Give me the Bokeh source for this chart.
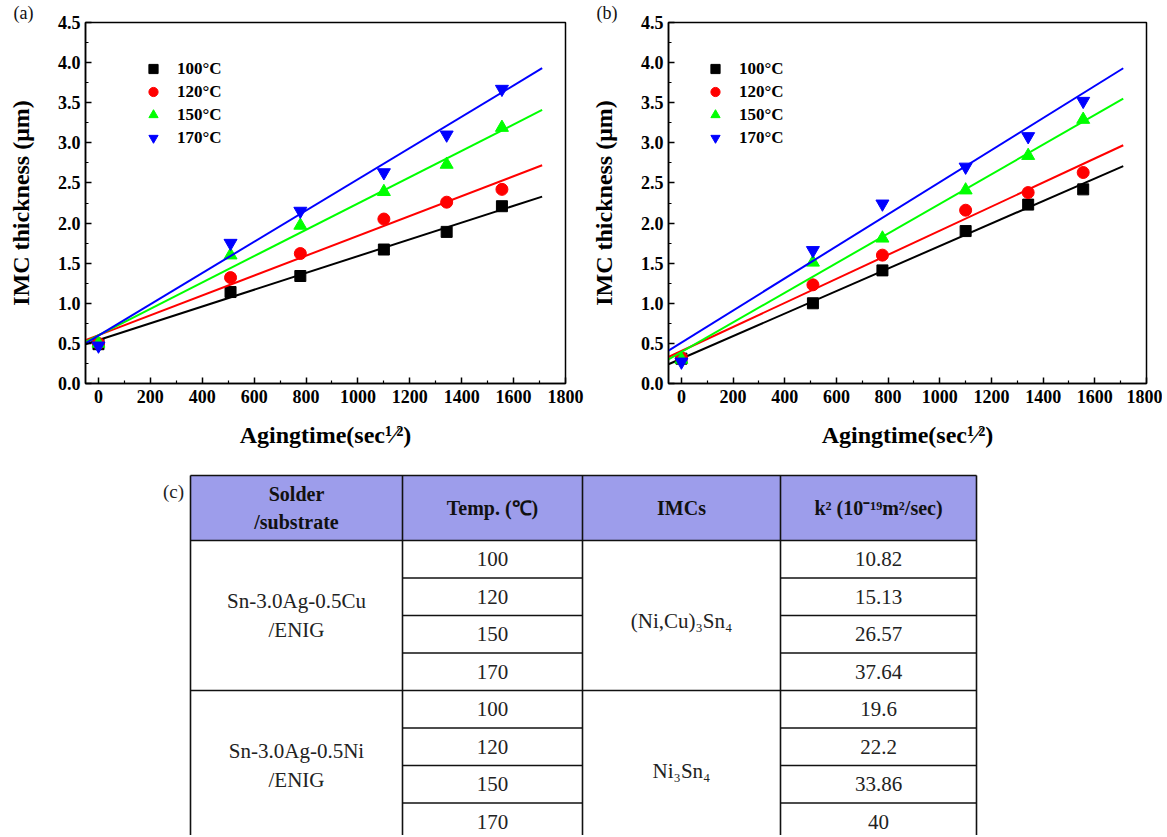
from bokeh.plotting import figure
from bokeh.models import Range1d, Legend, LegendItem, Label, FixedTicker, PrintfTickFormatter
from bokeh.layouts import column, row
from bokeh.embed import file_html
from bokeh.resources import INLINE
from bokeh.core.properties import value

SERIF = "Liberation Serif"

# ---------------- data ----------------
aging_time = [0, 509, 778, 1100, 1342, 1555]
temp_labels = ["100\u00b0C", "120\u00b0C", "150\u00b0C", "170\u00b0C"]

# panel (a): Sn-3.0Ag-0.5Cu / ENIG
a_100 = [0.49, 1.14, 1.34, 1.67, 1.89, 2.21]
a_120 = [0.50, 1.32, 1.62, 2.05, 2.26, 2.42]
a_150 = [0.50, 1.60, 1.97, 2.39, 2.73, 3.19]
a_170 = [0.47, 1.75, 2.15, 2.63, 3.10, 3.67]

# panel (b): Sn-3.0Ag-0.5Ni / ENIG
b_100 = [0.31, 1.00, 1.41, 1.90, 2.23, 2.42]
b_120 = [0.32, 1.23, 1.60, 2.16, 2.38, 2.63]
b_150 = [0.30, 1.51, 1.81, 2.41, 2.84, 3.29]
b_170 = [0.27, 1.66, 2.24, 2.70, 3.08, 3.52]

# linear fit lines (value at start and end of fit_x)
fit_x = [-50, 1710]
a_fit_100 = [0.49, 2.33]
a_fit_120 = [0.54, 2.72]
a_fit_150 = [0.52, 3.41]
a_fit_170 = [0.50, 3.93]
b_fit_100 = [0.24, 2.71]
b_fit_120 = [0.33, 2.97]
b_fit_150 = [0.30, 3.55]
b_fit_170 = [0.41, 3.93]

x_ticks = [0, 200, 400, 600, 800, 1000, 1200, 1400, 1600, 1800]
y_ticks = [0.0, 0.5, 1.0, 1.5, 2.0, 2.5, 3.0, 3.5, 4.0, 4.5]

# table (c)
header_labels = ["Solder\n/substrate", "Temp. (\u2103)", "IMCs", "k\u00b2 (10\u207b\u00b9\u2079m\u00b2/sec)"]
solders = ["Sn-3.0Ag-0.5Cu\n/ENIG", "Sn-3.0Ag-0.5Ni\n/ENIG"]
imcs = ["(Ni,Cu)\u2083Sn\u2084", "Ni\u2083Sn\u2084"]
table_temps = ["100", "120", "150", "170", "100", "120", "150", "170"]
table_k2 = ["10.82", "15.13", "26.57", "37.64", "19.6", "22.2", "33.86", "40"]

# ---------------- styles ----------------
colors = ["#000000", "#ff0000", "#00ff00", "#0000ff"]
markers = ["square", "circle", "triangle", "inverted_triangle"]
marker_sizes = [11, 12, 13, 13]


def make_plot(tag, series, fits, width, border_left, border_right, legend_x):
    p = figure(width=width, height=455, x_range=Range1d(-50, 1800), y_range=Range1d(0, 4.5),
               output_backend="svg", toolbar_location=None,
               min_border_left=border_left, min_border_right=border_right,
               min_border_top=21, min_border_bottom=72)
    p.title.text = tag
    p.title.align = "left"
    p.title.offset = -72
    p.title.standoff = 0
    p.title.vertical_align = "bottom"
    p.title.text_font = SERIF
    p.title.text_font_style = "normal"
    p.title.text_font_size = "18px"
    p.title.text_color = "#111111"
    p.grid.visible = False
    p.outline_line_color = "black"
    p.outline_line_width = 1.5
    p.outline_line_alpha = 1.0
    p.xaxis.ticker = FixedTicker(ticks=x_ticks,
                                 minor_ticks=[v + 100 for v in x_ticks[:-1]])
    p.yaxis.ticker = FixedTicker(ticks=y_ticks,
                                 minor_ticks=[v + 0.25 for v in y_ticks[:-1]])
    p.yaxis.formatter = PrintfTickFormatter(format="%.1f")
    p.xaxis.axis_label = "Agingtime(sec\u00b9\u2044\u00b2)"
    p.yaxis.axis_label = "IMC thickness (\u03bcm)"
    for ax in (p.xaxis[0], p.yaxis[0]):
        ax.axis_line_width = 1.5
        ax.axis_line_color = "black"
        ax.major_tick_in = 6
        ax.major_tick_out = 0
        ax.minor_tick_in = 3
        ax.minor_tick_out = 0
        ax.major_tick_line_width = 1.5
        ax.minor_tick_line_width = 1.2
        ax.major_tick_line_color = "black"
        ax.minor_tick_line_color = "black"
        ax.major_label_text_font = SERIF
        ax.major_label_text_font_style = "bold"
        ax.major_label_text_font_size = "18px"
        ax.major_label_text_color = "black"
        ax.axis_label_text_font = SERIF
        ax.axis_label_text_font_style = "bold"
        ax.axis_label_text_font_size = "24px"
        ax.axis_label_text_color = "black"
    p.xaxis.major_label_standoff = 6
    p.yaxis.major_label_standoff = 5
    p.xaxis.axis_label_standoff = 16
    p.yaxis.axis_label_standoff = 21

    items = []
    for ys, fy, lab, c, m, s in zip(series, fits, temp_labels, colors, markers, marker_sizes):
        p.line(fit_x, fy, line_color=c, line_width=2)
        r = p.scatter(aging_time, ys, marker=m, size=s, fill_color=c, line_color=c)
        items.append(LegendItem(label=lab, renderers=[r]))
    leg = Legend(items=items, location=(legend_x, 234), margin=0, padding=0, spacing=0,
                 glyph_width=26, glyph_height=23, label_height=23, label_standoff=11,
                 border_line_color=None, background_fill_alpha=0,
                 label_text_font=SERIF, label_text_font_style="bold",
                 label_text_font_size="17px", label_text_color="black")
    p.add_layout(leg)
    return p


pa = make_plot("(a)", [a_100, a_120, a_150, a_170],
               [a_fit_100, a_fit_120, a_fit_150, a_fit_170], 587, 85, 22, 55)
pb = make_plot("(b)", [b_100, b_120, b_150, b_170],
               [b_fit_100, b_fit_120, b_fit_150, b_fit_170], 575, 76, 16, 34)

# ---------------- table ----------------
col_edges = [190, 402, 582, 780, 976]
header_top, header_bottom, row_h = 475, 540, 37.5
row_y = [header_bottom + i * row_h for i in range(len(table_temps) + 1)]

t = figure(width=1167, height=380, x_range=Range1d(0, 1167), y_range=Range1d(835, 455),
           output_backend="svg", toolbar_location=None,
           x_axis_location=None, y_axis_location=None, min_border=0)
t.grid.visible = False
t.outline_line_color = None

t.quad(left=[col_edges[0]], right=[col_edges[-1]], top=[header_top], bottom=[header_bottom],
       fill_color="#9d9deb", line_color=None)

x0s, y0s, x1s, y1s = [], [], [], []
for xe in col_edges:
    x0s.append(xe); y0s.append(header_top); x1s.append(xe); y1s.append(row_y[-1])
for yy in [header_top, header_bottom, row_y[4], row_y[-1]]:
    x0s.append(col_edges[0]); y0s.append(yy); x1s.append(col_edges[-1]); y1s.append(yy)
for i in range(1, len(table_temps)):
    if i == 4:
        continue
    for a, b in [(col_edges[1], col_edges[2]), (col_edges[3], col_edges[4])]:
        x0s.append(a); y0s.append(row_y[i]); x1s.append(b); y1s.append(row_y[i])
t.segment(x0=x0s, y0=y0s, x1=x1s, y1=y1s, line_color="#111111", line_width=1.6)

mids = [(col_edges[i] + col_edges[i + 1]) / 2 for i in range(4)]
hdr_mid = (header_top + header_bottom) / 2
# headers
hx, hy, ht = [], [], []
for m, lab in zip(mids, header_labels):
    lines = lab.split("\n")
    if len(lines) == 2:
        hx += [m, m]; hy += [hdr_mid - 14, hdr_mid + 14]; ht += lines
    else:
        hx.append(m); hy.append(hdr_mid); ht.append(lab)
t.text(x=hx, y=hy, text=ht, text_font=value(SERIF), text_font_style="bold",
       text_font_size="20px", text_align="center", text_baseline="middle", text_color="#111111")

row_mid = [(row_y[i] + row_y[i + 1]) / 2 for i in range(len(table_temps))]
t.text(x=[mids[1]] * len(table_temps), y=row_mid, text=table_temps, text_font=value(SERIF),
       text_font_size="21px", text_align="center", text_baseline="middle", text_color="#222222")
t.text(x=[mids[3]] * len(table_k2), y=row_mid, text=table_k2, text_font=value(SERIF),
       text_font_size="21px", text_align="center", text_baseline="middle", text_color="#222222")

sx, sy, st = [], [], []
ix, iy = [], []
for g, (sol, imc) in enumerate(zip(solders, imcs)):
    gc = (row_y[4 * g] + row_y[4 * g + 4]) / 2
    l1, l2 = sol.split("\n")
    sx += [mids[0], mids[0]]; sy += [gc - 15, gc + 14]; st += [l1, l2]
    ix.append(mids[2]); iy.append(gc + 5)
t.text(x=sx, y=sy, text=st, text_font=value(SERIF), text_font_size="21px",
       text_align="center", text_baseline="middle", text_color="#222222")
t.text(x=ix, y=iy, text=imcs, text_font=value(SERIF), text_font_size="21px",
       text_align="center", text_baseline="middle", text_color="#222222")
t.add_layout(Label(x=173, y=491, text="(c)", text_font=SERIF, text_font_size="19px",
                   text_align="center", text_baseline="middle", text_color="#222222"))

layout = column(row(pa, pb), t)
open("out.html", "w").write(file_html(layout, INLINE))
